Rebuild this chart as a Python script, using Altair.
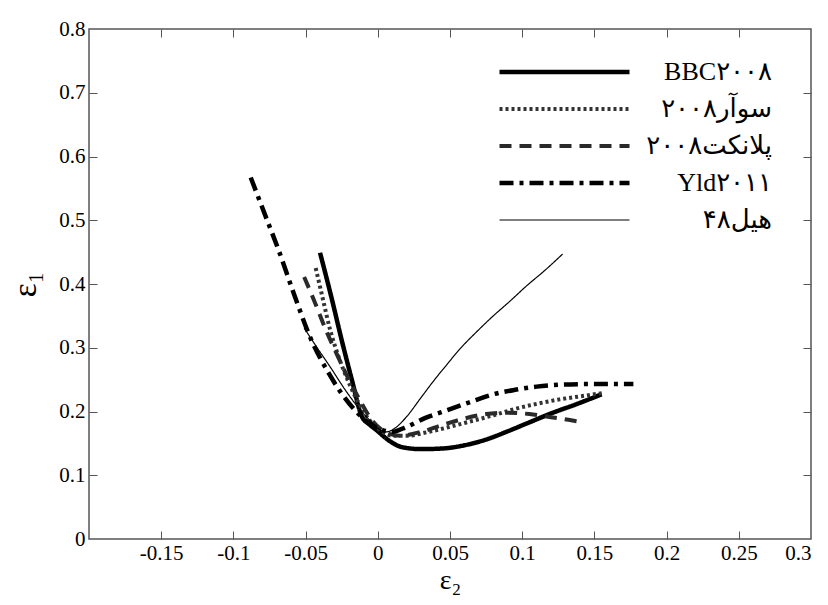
import altair as alt
import pandas as pd

# ---- data (x = eps2, y = eps1) ----
series_names = ["BBC۲۰۰۸", "سوآر۲۰۰۸", "پلانکت۲۰۰۸", "Yld۲۰۱۱", "هیل۴۸"]

bbc_x = [-0.040, -0.032, -0.025, -0.018, -0.011, -0.006, -0.001, 0.008, 0.017, 0.030,
         0.045, 0.060, 0.075, 0.090, 0.105, 0.120, 0.137, 0.155]
bbc_y = [0.449, 0.378, 0.312, 0.250, 0.192, 0.180, 0.171, 0.154, 0.144, 0.141,
         0.142, 0.147, 0.156, 0.169, 0.183, 0.197, 0.211, 0.227]

swor_x = [-0.043, -0.038, -0.033, -0.027, -0.020, -0.013, -0.006, 0.002, 0.010, 0.020,
          0.035, 0.050, 0.065, 0.080, 0.095, 0.110, 0.126, 0.141, 0.156]
swor_y = [0.425, 0.376, 0.328, 0.285, 0.245, 0.212, 0.187, 0.170, 0.162, 0.162,
          0.168, 0.176, 0.185, 0.194, 0.204, 0.212, 0.219, 0.224, 0.229]

plunk_x = [-0.051, -0.043, -0.036, -0.028, -0.020, -0.012, -0.004, 0.005, 0.015, 0.030,
           0.045, 0.060, 0.075, 0.090, 0.105, 0.120, 0.132, 0.142]
plunk_y = [0.411, 0.368, 0.328, 0.288, 0.250, 0.216, 0.186, 0.168, 0.162, 0.168,
           0.179, 0.189, 0.196, 0.198, 0.196, 0.191, 0.187, 0.183]

yld_x = [-0.088, -0.078, -0.069, -0.058, -0.046, -0.035, -0.025, -0.015, -0.006, 0.002,
         0.010, 0.020, 0.033, 0.048, 0.063, 0.080, 0.095, 0.110, 0.126, 0.145, 0.160, 0.177]
yld_y = [0.567, 0.508, 0.455, 0.384, 0.312, 0.264, 0.228, 0.200, 0.182, 0.172,
         0.168, 0.176, 0.190, 0.202, 0.214, 0.227, 0.234, 0.239, 0.242, 0.243, 0.243, 0.243]

hill_x = [-0.051, -0.042, -0.033, -0.022, -0.012, -0.005, 0.001, 0.006, 0.012, 0.020,
          0.030, 0.039, 0.048, 0.056, 0.068, 0.079, 0.091, 0.103, 0.116, 0.128]
hill_y = [0.331, 0.300, 0.270, 0.232, 0.202, 0.185, 0.172, 0.168, 0.174, 0.192,
          0.222, 0.249, 0.274, 0.296, 0.324, 0.348, 0.372, 0.397, 0.422, 0.447]

x_tick_values = [-0.15, -0.1, -0.05, 0, 0.05, 0.1, 0.15, 0.2, 0.25, 0.3]
y_tick_values = [0, 0.1, 0.2, 0.3, 0.4, 0.5, 0.6, 0.7, 0.8]

rows = []
for name, xs, ys in zip(series_names,
                        [bbc_x, swor_x, plunk_x, yld_x, hill_x],
                        [bbc_y, swor_y, plunk_y, yld_y, hill_y]):
    for i, (a, b) in enumerate(zip(xs, ys)):
        rows.append({"series": name, "e2": a, "e1": b, "i": i})
df = pd.DataFrame(rows)

FONT = "Liberation Serif, DejaVu Serif, DejaVu Sans"

xscale = alt.Scale(domain=[-0.2, 0.3], nice=False, zero=False)
yscale = alt.Scale(domain=[0, 0.8], nice=False, zero=False)

lines = alt.Chart(df).mark_line(interpolate="monotone", strokeCap="butt").encode(
    x=alt.X("e2:Q", scale=xscale,
            axis=alt.Axis(orient="bottom", values=x_tick_values, ticks=False, tickSize=0,
                          domain=False, grid=False, labelPadding=3,
                          labelExpr="datum.value == 0 ? '0' : (datum.value < 0 ? '-' : '') + format(abs(datum.value), '~g')",
                          labelFont=FONT, labelFontSize=21, labelColor="black",
                          title="ε₂", titleFont=FONT, titleFontSize=28, titleFontWeight="normal",
                          titleColor="black", titlePadding=3)),
    y=alt.Y("e1:Q", scale=yscale,
            axis=alt.Axis(orient="left", values=y_tick_values, ticks=False, tickSize=0,
                          domain=False, grid=False, labelPadding=4, format="~g",
                          labelFont=FONT, labelFontSize=21, labelColor="black",
                          title="ε₁", titleFont=FONT, titleFontSize=33, titleFontWeight="normal",
                          titleColor="black", titlePadding=16)),
    color=alt.Color("series:N",
                    scale=alt.Scale(domain=series_names,
                                    range=["black", "#333333", "#2a2a2a", "black", "black"]),
                    legend=alt.Legend(title=None, orient="none", legendX=408, legendY=28,
                                      symbolType="stroke", symbolSize=16900, clipHeight=30,
                                      rowPadding=7, padding=0, labelFont=FONT, labelFontSize=26,
                                      labelColor="black", labelAlign="right", labelOffset=140,
                                      labelLimit=400)),
    strokeDash=alt.StrokeDash("series:N",
                              scale=alt.Scale(domain=series_names,
                                              range=[[1, 0], [3, 3], [12, 8], [14, 6, 4, 6], [1, 0]]),
                              legend=None),
    strokeWidth=alt.StrokeWidth("series:N",
                                scale=alt.Scale(type="ordinal", domain=series_names,
                                                range=[4.5, 4, 4, 4.5, 1.2]),
                                legend=None),
    order="i:Q",
    detail="series:N",
)

tick_style = dict(labels=False, domain=False, grid=False, ticks=True, tickSize=8,
                  tickColor="#555", tickWidth=1, title=None)

ticks_bl = alt.Chart(df).mark_line(opacity=0).encode(
    x=alt.X("e2:Q", scale=xscale,
            axis=alt.Axis(orient="bottom", offset=-8, values=x_tick_values[:-1], **tick_style)),
    y=alt.Y("e1:Q", scale=yscale,
            axis=alt.Axis(orient="left", offset=-8, values=y_tick_values[1:-1], **tick_style)),
    detail="series:N",
)
ticks_tr = alt.Chart(df).mark_line(opacity=0).encode(
    x=alt.X("e2:Q", scale=xscale,
            axis=alt.Axis(orient="top", offset=-8, values=x_tick_values[:-1], **tick_style)),
    y=alt.Y("e1:Q", scale=yscale,
            axis=alt.Axis(orient="right", offset=-8, values=y_tick_values[1:-1], **tick_style)),
    detail="series:N",
)

chart = alt.layer(lines, ticks_bl, ticks_tr).resolve_axis(
    x="independent", y="independent"
).properties(
    width=722, height=510,
    autosize=alt.AutoSizeParams(type="none"),
    padding={"left": 81, "top": 21, "right": 9, "bottom": 57},
    background="white",
).configure_view(stroke="#555", strokeWidth=1.5)

chart.save("out.html", embed_options={"renderer": "svg", "actions": False})
